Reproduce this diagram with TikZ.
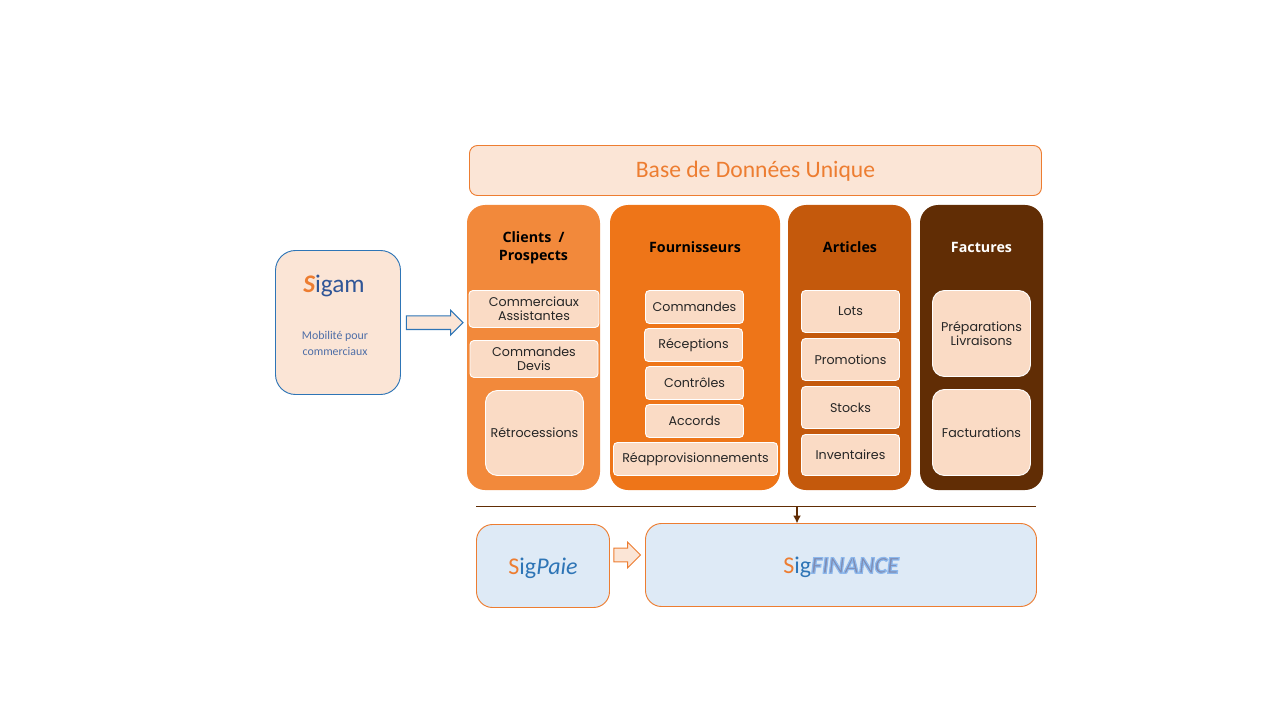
\documentclass[tikz,border=0pt]{standalone}
\usepackage{fontspec}
\setmainfont{Poppins}
\newfontfamily\headfont{Open Sans}
\newfontfamily\logofont{Carlito}
\usetikzlibrary{shapes.arrows,arrows.meta}
\definecolor{cOrangeA}{HTML}{F2893B}
\definecolor{cOrangeB}{HTML}{EE7518}
\definecolor{cOrangeC}{HTML}{C4590C}
\definecolor{cBrown}{HTML}{612D05}
\definecolor{cInner}{HTML}{FADBC5}
\definecolor{cPeach}{HTML}{FBE5D6}
\definecolor{cSky}{HTML}{DEEAF6}
\definecolor{cLine}{HTML}{ED7D31}
\definecolor{cBlue}{HTML}{2E75B6}
\definecolor{cNavy}{HTML}{2F5597}
\newcommand\bx[7]{%
  \pgfmathsetmacro\bw{(#4-#2)*0.75}\pgfmathsetmacro\bh{(#5-#3)*0.75}%
  \pgfmathsetmacro\cx{(#4+#2)/2}\pgfmathsetmacro\cy{(#5+#3)/2}%
  \node[#6,minimum width=\bw pt,minimum height=\bh pt] (#1) at (\cx,\cy) {#7};}
\newcommand\lowered[2]{\raisebox{-#1}[\height][\depth]{#2}}
\tikzset{
  x=0.75pt,y=-0.75pt,
  base/.style={rectangle,inner sep=0pt,outer sep=0pt,align=center},
  column/.style={base,rounded corners=13.5pt},
  headtext/.style={font=\headfont\bfseries\fontsize{10.7}{13.2}\selectfont,align=center,inner sep=0pt},
  inner/.style={base,fill=cInner,draw=white,line width=0.7pt,rounded corners=3pt,font=\fontsize{9.5}{10.5}\selectfont,text=black!85},
  bigin/.style={inner,rounded corners=9pt},
  frameO/.style={base,draw=cLine,line width=0.7pt,fill=cSky,rounded corners=12pt},
  blockarrow/.style={shape=single arrow,outer sep=0pt,inner xsep=0pt,single arrow tip angle=90,anchor=tip},
}
\begin{document}
\begin{tikzpicture}
\useasboundingbox (0,0) rectangle (1280,720);
\bx{base}{469.5}{145.5}{1041.5}{195.5}{base,draw=cLine,line width=0.7pt,fill=cPeach,rounded corners=6pt,text=cLine,font=\logofont\fontsize{17.7}{20}\selectfont}{\lowered{0.7pt}{Base de Données Unique}}
\bx{clients}{467}{205}{600}{490}{column,fill=cOrangeA}{}
\bx{fourn}{610}{205}{780}{490}{column,fill=cOrangeB}{}
\bx{articles}{788}{205}{911}{490}{column,fill=cOrangeC}{}
\bx{factures}{920}{205}{1043}{490}{column,fill=cBrown}{}
\node[headtext,text=black] (tclients) at (533.5,248) {Clients\hspace{0.5em}/\\Prospects};
\node[headtext,text=black] (tfourn) at (695,247) {Fournisseurs};
\node[headtext,text=black] (tart) at (850,247) {Articles};
\node[headtext,text=white] (tfac) at (981.5,247) {Factures};
\bx{i1}{469}{290.5}{599}{327.5}{inner}{Commerciaux\\Assistantes}
\bx{i2}{470}{340.5}{598}{377.5}{inner}{Commandes\\Devis}
\bx{i3}{485.5}{390.5}{583.5}{475.5}{bigin}{Rétrocessions}
\bx{f1}{645.5}{290.5}{743.5}{323.5}{inner}{Commandes}
\bx{f2}{644.5}{328.5}{742.5}{361.5}{inner}{Réceptions}
\bx{f3}{645.5}{366.5}{743.5}{399.5}{inner}{Contrôles}
\bx{f4}{645.5}{404.5}{743.5}{437.5}{inner}{Accords}
\bx{f5}{613.5}{442.5}{777.5}{475.5}{inner}{Réapprovisionnements}
\bx{a1}{801.5}{290.5}{899.5}{332.5}{inner}{Lots}
\bx{a2}{801.5}{338.5}{899.5}{380.5}{inner}{Promotions}
\bx{a3}{801.5}{386.5}{899.5}{428.5}{inner}{Stocks}
\bx{a4}{801.5}{434.5}{899.5}{475.5}{inner}{Inventaires}
\bx{b1}{932.5}{290.5}{1030.5}{376.5}{bigin}{Préparations\\Livraisons}
\bx{b2}{932.5}{389.5}{1030.5}{475.5}{bigin}{Facturations}
\bx{sigam}{275.5}{250.5}{400.5}{394.5}{base,draw=cBlue,line width=0.7pt,fill=cPeach,rounded corners=15pt}{}
\node[font=\logofont\fontsize{19}{20}\selectfont,text=cNavy,inner sep=0pt] (sigamlogo) at (334,286) {\textcolor{cLine}{\bfseries\itshape S}igam};
\node[font=\logofont\fontsize{8.9}{11.5}\selectfont,text=cNavy!85,align=center,inner sep=0pt] (sigamtxt) at (335,343.5) {Mobilité pour\\commerciaux};
\node[blockarrow,draw=cBlue,fill=cPeach,line width=0.8pt,inner ysep=4.7pt,minimum height=42.5pt,single arrow head extend=4.2pt] (a) at (463,322.7) {};
\coordinate (barL) at (476,506.5);
\coordinate (barR) at (1036,506.5);
\coordinate (barM) at (797,506.5);
\draw[cBrown,line width=0.8pt] (barL) -- (barR);
\bx{paie}{476.5}{524.5}{609.5}{607.5}{frameO}{\logofont\fontsize{18}{20}\selectfont\lowered{1.5pt}{\textcolor{cLine}{S}\textcolor{cBlue}{ig{\itshape Paie}}}}
\bx{fin}{645.5}{523.5}{1036.5}{606.5}{frameO}{\logofont\fontsize{18}{20}\selectfont\lowered{1.5pt}{\textcolor{cLine}{S}\textcolor{cBlue}{ig}{\itshape\bfseries\special{pdf:code q 2 Tr 0.9 w 0.55 0.72 0.93 RG 0.5 0.55 0.7 rg}FINANCE\special{pdf:code 0 Tr Q}}}}
\draw[cBrown,line width=1.2pt,-{Latex[length=6pt,width=6pt]}] (barM) -- (fin.north -| barM);
\node[blockarrow,draw=cLine,fill=cPeach,line width=0.7pt,inner ysep=4.8pt,minimum height=20pt,single arrow head extend=4.5pt] (b) at (640.5,555) {};
\end{tikzpicture}
\end{document}
